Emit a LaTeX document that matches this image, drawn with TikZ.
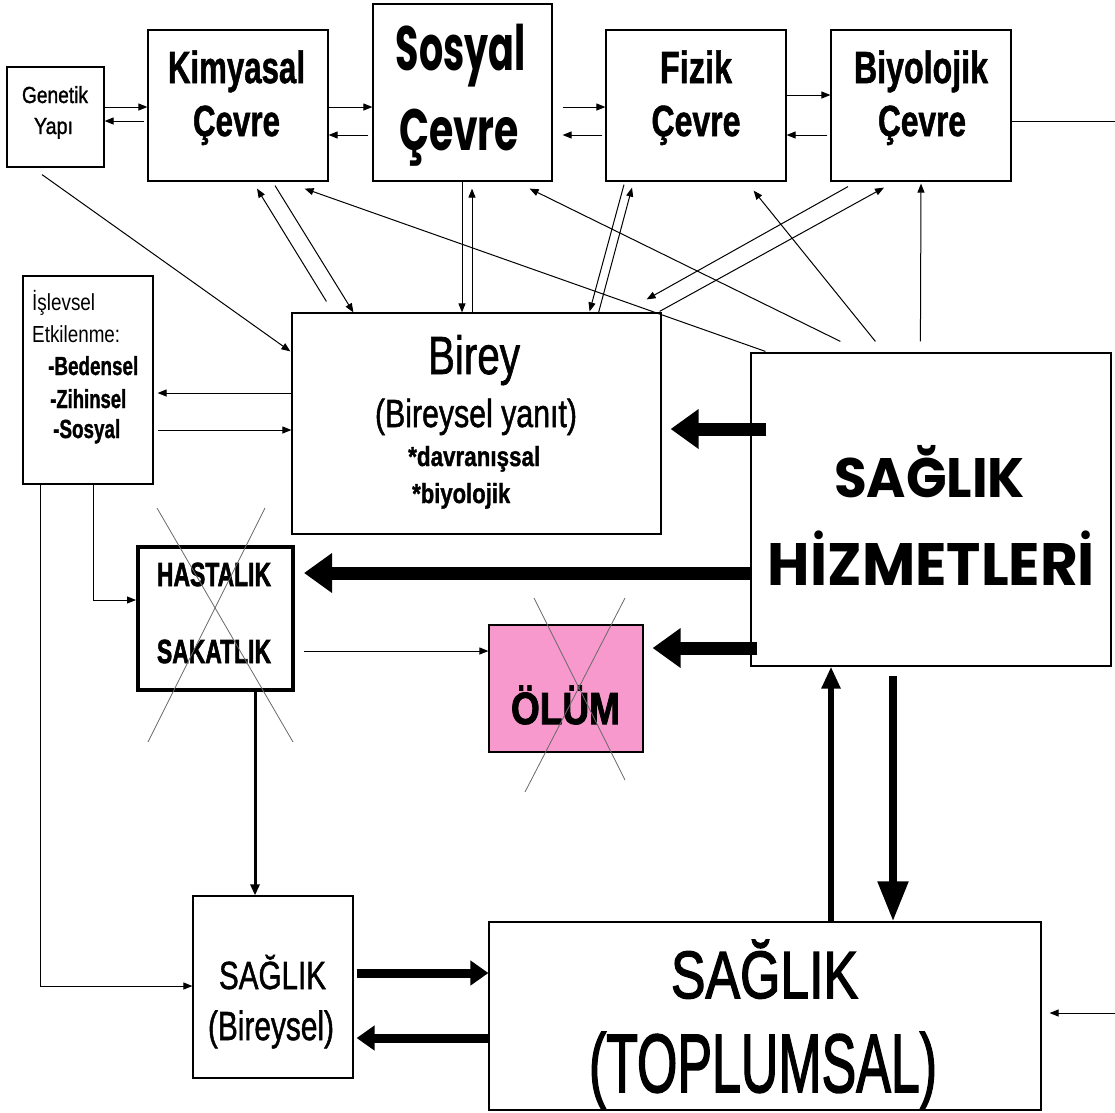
\documentclass[tikz,border=0pt]{standalone}
\usepackage{fontspec}
\usepackage{graphicx}
\setmainfont{Liberation Sans}
\newfontfamily\comicf{Poppins}
\newfontfamily\medf[FakeBold=1.4]{Liberation Sans}
\newfontfamily\hvf[FakeBold=2.2]{Liberation Sans}
\usetikzlibrary{arrows.meta}
\definecolor{olumpink}{RGB}{247,153,204}
\definecolor{crossgray}{RGB}{105,105,105}
% width, cap height, font, text
\newcommand\fb[4]{\resizebox{#1pt}{#2pt}{#3\vphantom{H}\smash{#4}}}
\begin{document}
\begin{tikzpicture}[x=1pt,y=-1pt,
  box/.style={draw=black, line width=1.2pt, inner sep=0pt},
  txt/.style={inner sep=0pt, anchor=base},
  txtl/.style={inner sep=0pt, anchor=base west},
  thin arrow/.style={line width=1pt, -{Triangle[length=9pt,width=7pt]}},
  plain line/.style={line width=1pt},
  thick arrow/.style={line width=13pt, -{Triangle[length=28pt,width=38pt]}},
  mid arrow/.style={line width=9pt, -{Triangle[length=18pt,width=24pt]}},
  cross/.style={draw=crossgray, line width=0.8pt}]

\useasboundingbox (0,0) rectangle (1115,1112);
\fill[white] (0,0) rectangle (1115,1112);

% ---------- boxes ----------
\node[box, minimum width=97pt,  minimum height=100pt] (gen)   at (55.5,117)   {};
\node[box, minimum width=180pt, minimum height=151pt] (kim)   at (238,105.5)  {};
\node[box, minimum width=179pt, minimum height=177pt] (sos)   at (462.5,92.5) {};
\node[box, minimum width=180pt, minimum height=151pt] (fiz)   at (696,105.5)  {};
\node[box, minimum width=180pt, minimum height=151pt] (bio)   at (921,105.5)  {};
\node[box, minimum width=130pt, minimum height=208pt] (isl)   at (88,380)     {};
\node[box, minimum width=369pt, minimum height=221pt] (birey) at (476.5,423.5){};
\node[box, minimum width=360pt, minimum height=313pt] (hiz)   at (931,509.5)  {};
\node[box, line width=4pt, minimum width=155pt, minimum height=143pt] (has) at (215.5,618.5) {};
\node[box, fill=olumpink, minimum width=154pt, minimum height=127pt] (olum) at (566,688.5) {};
\node[box, minimum width=160pt, minimum height=182pt] (bir2)  at (273,987)    {};
\node[box, minimum width=552pt, minimum height=188pt] (top)   at (765,1016)   {};

% ---------- texts ----------
\node[txt] (genA) at (55,103)  {\fb{66}{16}{\medf}{Genetik}};
\node[txt] (genB) at (53.5,134){\fb{39}{16}{\medf}{Yapı}};

\node[txt] (kimA) at (236.5,83) {\fb{137}{31}{\medf\bfseries}{Kimyasal}};
\node[txt] (kimB) at (236.5,136){\fb{87}{30}{\medf\bfseries}{Çevre}};

\node[txt] (sosA) at (461,70)  {\fb{130}{44}{\comicf\bfseries}{Sosyal}};
\node[txt] (sosB) at (459,150) {\fb{120}{41}{\comicf\bfseries}{Çevre}};

\node[txt] (fizA) at (696,83)  {\fb{72}{31}{\medf\bfseries}{Fizik}};
\node[txt] (fizB) at (696,136) {\fb{89}{30}{\medf\bfseries}{Çevre}};

\node[txt] (bioA) at (921,83)  {\fb{134}{31}{\medf\bfseries}{Biyolojik}};
\node[txt] (bioB) at (922,136) {\fb{88}{30}{\medf\bfseries}{Çevre}};

\node[txtl] (islA) at (32,310) {\fb{63}{16}{}{İşlevsel}};
\node[txtl] (islB) at (32,342) {\fb{88}{16}{}{Etkilenme:}};
\node[txtl] (islC) at (48,375) {\fb{90}{18}{\medf\bfseries}{-Bedensel}};
\node[txtl] (islD) at (50,408) {\fb{76}{18}{\medf\bfseries}{-Zihinsel}};
\node[txtl] (islE) at (53,438) {\fb{67}{18}{\medf\bfseries}{-Sosyal}};

\node[txt]  (birA) at (474,374) {\fb{92}{37}{\medf}{Birey}};
\node[txt]  (birB) at (476,427) {\fb{202}{27}{\medf}{(Bireysel yanıt)}};
\node[txtl] (birC) at (408,466) {\fb{132}{19}{\medf\bfseries}{*davranışsal}};
\node[txtl] (birD) at (412,503) {\fb{98}{19}{\medf\bfseries}{*biyolojik}};

\node[txt] (hizA) at (929.5,497) {\fb{191}{39}{\comicf\bfseries}{SAĞLIK}};
\node[txt] (hizB) at (931.5,585) {\fb{327}{42}{\comicf\bfseries}{HİZMETLERİ}};

\node[txt] (hasA) at (214,586) {\fb{114}{23}{\hvf\bfseries}{HASTALIK}};
\node[txt] (hasB) at (214,663) {\fb{114}{23}{\hvf\bfseries}{SAKATLIK}};

\node[txt] (olA) at (565.5,724) {\fb{109}{31}{\hvf\bfseries}{ÖLÜM}};

\node[txt] (b2A) at (272.5,989) {\fb{107}{27}{\medf}{SAĞLIK}};
\node[txt] (b2B) at (271,1040)  {\fb{126}{28}{\medf}{(Bireysel)}};

\node[txt] (topA) at (764.5,998) {\fb{187}{46}{\hvf}{SAĞLIK}};
\node[txt] (topB) at (763,1092)  {\fb{348}{57}{\hvf}{(TOPLUMSAL)}};

% ---------- connectors: top row ----------
\draw[thin arrow] (gen.east |- 0,107) -- (kim.west |- 0,107);
\draw[thin arrow, shorten <=3pt] (kim.west |- 0,121) -- (gen.east |- 0,121);
\draw[thin arrow] (kim.east |- 0,107) -- (sos.west |- 0,107);
\draw[thin arrow, shorten <=4pt] (sos.west |- 0,135) -- (kim.east |- 0,135);
\draw[thin arrow, shorten <=10pt] (sos.east |- 0,107) -- (fiz.west |- 0,107);
\draw[thin arrow, shorten <=3pt, shorten >=10pt] (fiz.west |- 0,135) -- (sos.east |- 0,135);
\draw[thin arrow] (fiz.east |- 0,95) -- (bio.west |- 0,95);
\draw[thin arrow, shorten <=3pt] (bio.west |- 0,135) -- (fiz.east |- 0,135);
\coordinate (rtop) at (1115,121);
\draw[plain line] (bio.east |- rtop) -- (rtop);
\coordinate (rbot) at (1115,1013);
\draw[thin arrow, shorten >=8pt] (rbot) -- (top.east |- rbot);

% ---------- connectors: diagonals ----------
\draw[thin arrow] ([shift={(-13.5,7)}]gen.south) -- ([shift={(-1,39)}]birey.north west);
\draw[thin arrow] ([shift={(35,-11)}]birey.north west) -- ([shift={(19,7)}]kim.south);
\draw[thin arrow] ([shift={(37,4)}]kim.south) -- ([shift={(62,0)}]birey.north west);
\draw[thin arrow] ([shift={(15,-1)}]hiz.north west) -- ([shift={(-24,7)}]kim.south east);
\draw[thin arrow] ([shift={(90,-11)}]hiz.north west) -- ([shift={(-23,7)}]sos.south east);
\draw[thin arrow] (462,0 |- sos.south) -- (462,0 |- birey.north);
\draw[thin arrow, shorten >=7pt] (472,0 |- birey.north) -- (472,0 |- sos.south);
\draw[thin arrow] ([shift={(-72,3)}]fiz.south) -- ([shift={(-72,-1)}]birey.north east);
\draw[thin arrow] ([shift={(-63,0)}]birey.north east) -- ([shift={(-64,6)}]fiz.south);
\draw[thin arrow] ([shift={(-73,5)}]bio.south) -- ([shift={(-15,-13)}]birey.north east);
\draw[thin arrow] ([shift={(-2,-1)}]birey.north east) -- ([shift={(-37,6)}]bio.south);
\draw[thin arrow] ([shift={(125,-11)}]hiz.north west) -- ([shift={(-33,9)}]fiz.south east);
\draw[thin arrow] ([shift={(170,-11)}]hiz.north west) -- ([shift={(0,2)}]bio.south);

% ---------- connectors: left side ----------
\draw[thin arrow, shorten >=4pt] (birey.west |- 0,393) -- (isl.east |- 0,393);
\draw[thin arrow, shorten <=4pt] (isl.east |- 0,430) -- (birey.west |- 0,430);
\draw[thin arrow] (93,0 |- isl.south) |- (has.west |- 0,600);
\draw[thin arrow] (40,0 |- isl.south) |- (bir2.west |- 0,986);
\draw[thin arrow, shorten <=9pt] (has.east |- 0,651) -- (olum.west |- 0,651);
\draw[line width=3pt, -{Triangle[length=11pt,width=9pt]}] (255,0 |- has.south) -- (255,0 |- bir2.north);

% ---------- thick arrows ----------
\draw[thick arrow, shorten <=-16pt, shorten >=9pt] (hiz.west |- 0,429) -- (birey.east |- 0,429);
\draw[thick arrow, shorten >=9pt] (hiz.west |- 0,573) -- (has.east |- 0,573);
\draw[thick arrow, shorten <=-7pt, shorten >=9pt] (hiz.west |- 0,648) -- (olum.east |- 0,648);
\draw[line width=6pt, -{Triangle[length=22pt,width=18pt]}] (831,0 |- top.north) -- (831,0 |- hiz.south);
\draw[line width=8pt, -{Triangle[length=40pt,width=29pt]}, shorten <=9pt] (893,0 |- hiz.south) -- (893,0 |- top.north);
\draw[mid arrow, shorten <=3pt] (bir2.east |- 0,973) -- (top.west |- 0,973);
\draw[mid arrow, shorten >=3pt] (top.west |- 0,1038) -- (bir2.east |- 0,1038);

% ---------- crossing-out lines ----------
\draw[cross] (157,508) -- (293,742);
\draw[cross] (265,508) -- (148,742);
\draw[cross] (534,598) -- (625,780);
\draw[cross] (625,598) -- (525,792);
\end{tikzpicture}
\end{document}
